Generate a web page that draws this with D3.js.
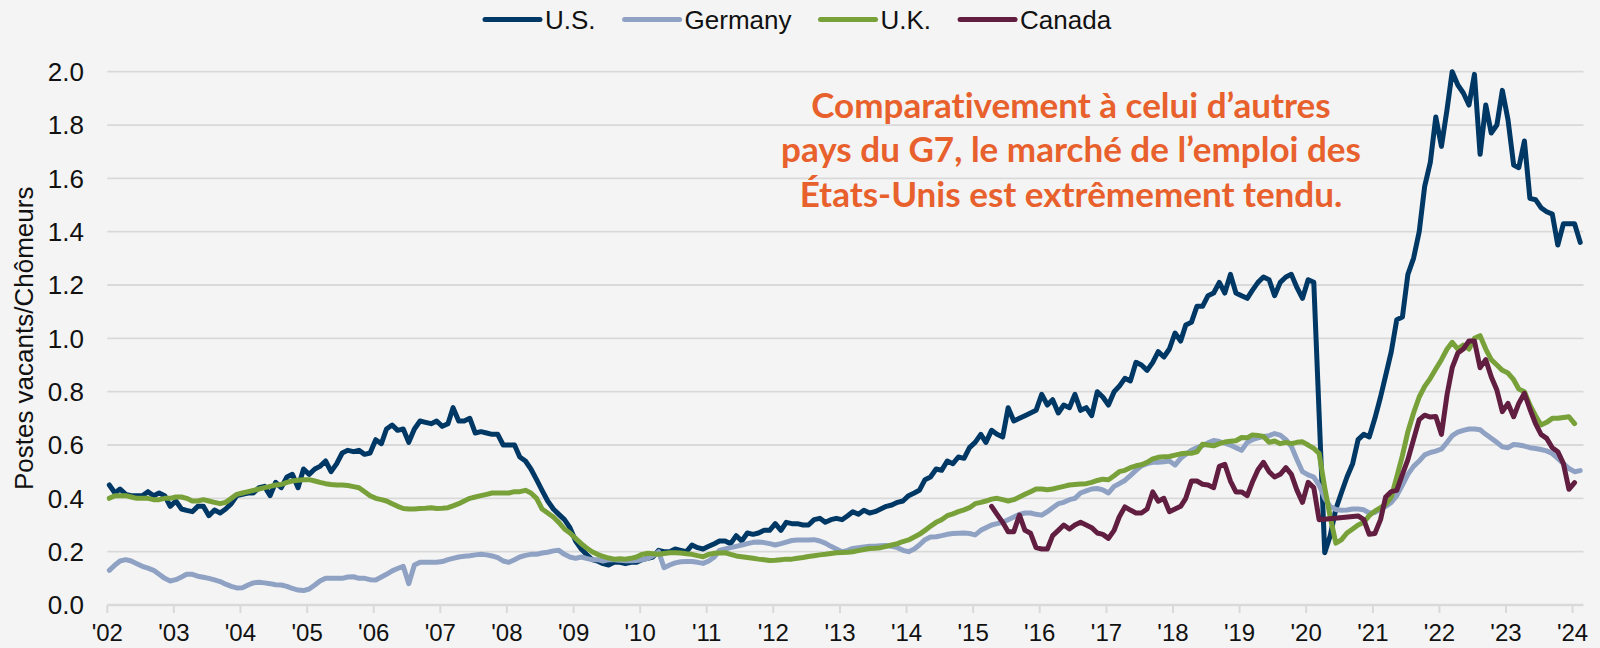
<!DOCTYPE html>
<html>
<head>
<meta charset="utf-8">
<script src="https://cdn.jsdelivr.net/npm/d3@7"></script>
<style>
  body { margin: 0; background: #f4f4f4; }
  svg { display: block; }
</style>
</head>
<body>
<div id="chart"></div>
<script>
// ---- data (monthly) ----
var seriesNames = ["U.S.", "Germany", "U.K.", "Canada"];
var seriesColors = ["#003865", "#8fa2c4", "#78a13a", "#621e40"];

// U.S. : Jan 2002 -> Feb 2024
var usStart = [2002, 0];
var usValues = [
  0.45, 0.42, 0.435, 0.415, 0.41, 0.41, 0.41, 0.425, 0.41, 0.42, 0.41, 0.37,
  0.39, 0.36, 0.355, 0.35, 0.37, 0.37, 0.335, 0.356, 0.345, 0.36, 0.38, 0.41,
  0.415, 0.42, 0.42, 0.44, 0.445, 0.41, 0.46, 0.44, 0.48, 0.49, 0.44, 0.51,
  0.49, 0.51, 0.52, 0.54, 0.50, 0.53, 0.57, 0.58, 0.575, 0.58, 0.565, 0.57,
  0.62, 0.605, 0.66, 0.675, 0.655, 0.66, 0.61, 0.66, 0.69, 0.685, 0.68, 0.69,
  0.67, 0.68, 0.74, 0.69, 0.69, 0.70, 0.645, 0.65, 0.645, 0.64, 0.64, 0.60,
  0.60, 0.60, 0.555, 0.54, 0.51, 0.47, 0.43, 0.39, 0.36, 0.34, 0.32, 0.29,
  0.24, 0.21, 0.19, 0.17, 0.165, 0.155, 0.15, 0.16, 0.16, 0.155, 0.16, 0.16,
  0.17, 0.175, 0.18, 0.205, 0.20, 0.20, 0.21, 0.205, 0.20, 0.225, 0.215, 0.21,
  0.22, 0.23, 0.24, 0.24, 0.23, 0.26, 0.24, 0.27, 0.265, 0.27, 0.28, 0.28,
  0.305, 0.28, 0.31, 0.305, 0.305, 0.30, 0.30, 0.32, 0.325, 0.31, 0.32, 0.325,
  0.32, 0.335, 0.35, 0.34, 0.355, 0.345, 0.35, 0.36, 0.37, 0.375, 0.385, 0.39,
  0.41, 0.42, 0.43, 0.47, 0.48, 0.51, 0.505, 0.54, 0.53, 0.555, 0.55, 0.59,
  0.61, 0.64, 0.61, 0.655, 0.64, 0.63, 0.74, 0.69, 0.70, 0.71, 0.72, 0.73,
  0.79, 0.75, 0.77, 0.72, 0.75, 0.74, 0.79, 0.73, 0.74, 0.71, 0.80, 0.78,
  0.75, 0.80, 0.82, 0.85, 0.84, 0.91, 0.90, 0.88, 0.91, 0.95, 0.93, 0.96,
  1.02, 0.99, 1.05, 1.06, 1.12, 1.12, 1.16, 1.17, 1.21, 1.17, 1.24, 1.17,
  1.16, 1.15, 1.18, 1.21, 1.23, 1.22, 1.16, 1.21, 1.23, 1.24, 1.19, 1.15,
  1.22, 1.21, 0.72, 0.196, 0.26, 0.36, 0.42, 0.48, 0.53, 0.62, 0.64, 0.63,
  0.70, 0.78, 0.86, 0.95, 1.07, 1.08, 1.24, 1.30, 1.40, 1.57, 1.66, 1.83,
  1.72, 1.86, 2.0, 1.95, 1.92, 1.875, 1.99, 1.69, 1.875, 1.77, 1.80, 1.93,
  1.82, 1.65, 1.64, 1.74, 1.525, 1.52, 1.49, 1.475, 1.466, 1.35, 1.43, 1.43,
  1.43, 1.36
];

// Germany : Jan 2002 -> Feb 2024
var deStart = [2002, 0];
var deValues = [
  0.13, 0.15, 0.165, 0.17, 0.165, 0.155, 0.145, 0.138, 0.13, 0.115, 0.10, 0.09,
  0.095, 0.105, 0.115, 0.115, 0.108, 0.104, 0.10, 0.094, 0.088, 0.078, 0.07, 0.064,
  0.065, 0.075, 0.083, 0.085, 0.083, 0.08, 0.076, 0.075, 0.07, 0.062, 0.056, 0.054,
  0.06, 0.075, 0.09, 0.10, 0.10, 0.10, 0.10, 0.105, 0.106, 0.10, 0.10, 0.095,
  0.094, 0.105, 0.115, 0.128, 0.137, 0.145, 0.08, 0.15, 0.16, 0.16, 0.16, 0.16,
  0.163, 0.17, 0.175, 0.18, 0.183, 0.185, 0.188, 0.19, 0.188, 0.184, 0.178, 0.165,
  0.16, 0.17, 0.18, 0.186, 0.19, 0.19, 0.195, 0.198, 0.203, 0.205, 0.19, 0.18,
  0.175, 0.18, 0.175, 0.17, 0.17, 0.165, 0.17, 0.17, 0.168, 0.166, 0.166, 0.167,
  0.17, 0.175, 0.185, 0.20, 0.14, 0.15, 0.158, 0.162, 0.163, 0.163, 0.16, 0.156,
  0.165, 0.18, 0.205, 0.21, 0.215, 0.22, 0.225, 0.23, 0.235, 0.236, 0.234, 0.23,
  0.225, 0.23, 0.236, 0.242, 0.244, 0.244, 0.244, 0.245, 0.24, 0.232, 0.22, 0.21,
  0.20, 0.205, 0.212, 0.215, 0.218, 0.22, 0.22, 0.222, 0.223, 0.22, 0.215, 0.205,
  0.20, 0.21, 0.225, 0.245, 0.255, 0.256, 0.26, 0.265, 0.268, 0.269, 0.27, 0.268,
  0.263, 0.28, 0.29, 0.30, 0.305, 0.31, 0.32, 0.33, 0.34, 0.345, 0.345, 0.34,
  0.337, 0.35, 0.365, 0.38, 0.385, 0.395, 0.40, 0.42, 0.428, 0.435, 0.437, 0.432,
  0.42, 0.445, 0.455, 0.467, 0.485, 0.505, 0.522, 0.53, 0.535, 0.535, 0.537, 0.54,
  0.525, 0.55, 0.565, 0.58, 0.59, 0.598, 0.608, 0.617, 0.613, 0.607, 0.60, 0.59,
  0.58, 0.61, 0.62, 0.627, 0.632, 0.635, 0.643, 0.637, 0.62, 0.595, 0.545, 0.50,
  0.488, 0.48, 0.45, 0.40, 0.37, 0.358, 0.355, 0.356, 0.36, 0.36, 0.357, 0.345,
  0.347, 0.36, 0.37, 0.385, 0.41, 0.45, 0.49, 0.52, 0.54, 0.563, 0.572, 0.577,
  0.585, 0.61, 0.635, 0.648, 0.655, 0.66, 0.66, 0.657, 0.64, 0.625, 0.61, 0.593,
  0.59, 0.602, 0.60, 0.596, 0.59, 0.587, 0.583, 0.578, 0.568, 0.55, 0.53, 0.512,
  0.50, 0.504
];

// U.K. : Jan 2002 -> Jan 2024
var ukStart = [2002, 0];
var ukValues = [
  0.40, 0.41, 0.41, 0.41, 0.405, 0.40, 0.40, 0.40, 0.395, 0.395, 0.40, 0.40,
  0.405, 0.405, 0.40, 0.39, 0.39, 0.395, 0.39, 0.385, 0.38, 0.385, 0.40, 0.415,
  0.42, 0.425, 0.43, 0.435, 0.44, 0.445, 0.45, 0.452, 0.46, 0.465, 0.468, 0.47,
  0.47, 0.465, 0.46, 0.455, 0.452, 0.45, 0.45, 0.448, 0.444, 0.44, 0.425, 0.41,
  0.40, 0.395, 0.39, 0.38, 0.37, 0.362, 0.36, 0.36, 0.362, 0.363, 0.365, 0.362,
  0.363, 0.365, 0.372, 0.38, 0.39, 0.40, 0.405, 0.41, 0.415, 0.42, 0.42, 0.42,
  0.42, 0.425, 0.425, 0.43, 0.42, 0.40, 0.36, 0.345, 0.33, 0.31, 0.285, 0.27,
  0.25, 0.23, 0.215, 0.20, 0.19, 0.182, 0.176, 0.172, 0.173, 0.172, 0.175, 0.18,
  0.19, 0.194, 0.192, 0.19, 0.193, 0.196, 0.196, 0.195, 0.192, 0.19, 0.185, 0.181,
  0.19, 0.194, 0.195, 0.196, 0.19, 0.184, 0.181, 0.178, 0.175, 0.172, 0.17, 0.167,
  0.168, 0.17, 0.172, 0.172, 0.175, 0.178, 0.182, 0.185, 0.188, 0.19, 0.193, 0.196,
  0.197, 0.198, 0.20, 0.204, 0.208, 0.212, 0.213, 0.215, 0.22, 0.225, 0.23, 0.238,
  0.244, 0.255, 0.265, 0.28, 0.295, 0.31, 0.32, 0.335, 0.342, 0.35, 0.357, 0.365,
  0.38, 0.385, 0.39, 0.397, 0.40, 0.395, 0.39, 0.395, 0.405, 0.415, 0.425, 0.435,
  0.435, 0.432, 0.435, 0.44, 0.445, 0.45, 0.452, 0.454, 0.455, 0.46, 0.467, 0.472,
  0.47, 0.485, 0.50, 0.505, 0.515, 0.522, 0.526, 0.535, 0.548, 0.554, 0.556, 0.557,
  0.562, 0.567, 0.569, 0.569, 0.574, 0.603, 0.60, 0.597, 0.605, 0.611, 0.614, 0.616,
  0.628, 0.627, 0.638, 0.636, 0.632, 0.61, 0.615, 0.605, 0.61, 0.605, 0.61, 0.612,
  0.60, 0.587, 0.569, 0.44, 0.33, 0.232, 0.244, 0.27, 0.285, 0.30, 0.31, 0.335,
  0.352, 0.365, 0.377, 0.405, 0.48, 0.56, 0.65, 0.72, 0.78, 0.82, 0.85, 0.885,
  0.92, 0.96, 0.985, 0.96, 0.975, 0.96, 1.0, 1.01, 0.96, 0.92, 0.90, 0.88,
  0.87, 0.845, 0.81, 0.80, 0.75, 0.71, 0.675, 0.685, 0.70, 0.70, 0.703, 0.706,
  0.68
];

// Canada : Apr 2015 -> Jan 2024 (no survey Apr-Sep 2020)
var caStart = [2015, 3];
var caValues = [
  0.37, 0.34, 0.31, 0.275, 0.275, 0.3375, 0.28, 0.269, 0.215,
  0.21, 0.21, 0.26, 0.28, 0.30, 0.285, 0.30, 0.31, 0.30, 0.29, 0.27, 0.265,
  0.25, 0.28, 0.33, 0.368, 0.356, 0.345, 0.345, 0.36, 0.424, 0.389, 0.40, 0.35,
  0.36, 0.37, 0.40, 0.465, 0.465, 0.453, 0.45, 0.44, 0.52, 0.528, 0.465, 0.424,
  0.424, 0.41, 0.46, 0.507, 0.535, 0.50, 0.48, 0.49, 0.515, 0.49, 0.43, 0.385,
  0.46, 0.44, 0.32, null, null, null, null, null, null, 0.334, 0.32, 0.265,
  0.268, 0.32, 0.405, 0.425, 0.43, 0.49, 0.545, 0.62, 0.695, 0.712, 0.705, 0.707,
  0.64, 0.79, 0.89, 0.945, 0.96, 0.99, 0.99, 0.89, 0.92, 0.856, 0.806, 0.725,
  0.756, 0.706, 0.756, 0.794, 0.735, 0.68, 0.64, 0.625, 0.59, 0.575, 0.53, 0.434,
  0.459
];

var yTicks = [0, 0.2, 0.4, 0.6, 0.8, 1.0, 1.2, 1.4, 1.6, 1.8, 2.0];
var xTickYears = [2002, 2003, 2004, 2005, 2006, 2007, 2008, 2009, 2010, 2011, 2012,
  2013, 2014, 2015, 2016, 2017, 2018, 2019, 2020, 2021, 2022, 2023, 2024];
var xTickLabels = ["'02", "'03", "'04", "'05", "'06", "'07", "'08", "'09", "'10", "'11", "'12",
  "'13", "'14", "'15", "'16", "'17", "'18", "'19", "'20", "'21", "'22", "'23", "'24"];
var yTitle = "Postes vacants/Chômeurs";
var noteLines = ["Comparativement à celui d\u2019autres",
  "pays du G7, le marché de l\u2019emploi des",
  "États-Unis est extrêmement tendu."];

// ---- helpers ----
var toPoints = function(start, values) {
  return values.map(function(v, i) {
    return { date: new Date(start[0], start[1] + i, 12), v: v };
  }).filter(function(d) { return d.v !== null; });
};
var series = [
  toPoints(usStart, usValues),
  toPoints(deStart, deValues),
  toPoints(ukStart, ukValues),
  toPoints(caStart, caValues)
];

var W = 1600, H = 648;
// plot box (note: "top" is reserved on window, so prefix these)
var plotL = 107.3, plotR = 1583.5, plotT = 71.7, plotB = 605;
var font = "'Liberation Sans', Arial, sans-serif";

var svg = d3.select("#chart").append("svg")
  .attr("width", W)
  .attr("height", H);

svg.append("rect")
  .attr("width", W).attr("height", H)
  .attr("fill", "#f4f4f4");

var x = d3.scaleTime()
  .domain([new Date(2002, 0, 1), new Date(2024, 2, 1)])
  .range([plotL, plotR]);
var y = d3.scaleLinear()
  .domain([0, 2])
  .range([plotB, plotT]);

// gridlines
svg.append("g").selectAll("line")
  .data(yTicks.filter(function(t) { return t > 0; }))
  .enter().append("line")
  .attr("x1", plotL).attr("x2", plotR)
  .attr("y1", function(d) { return y(d); })
  .attr("y2", function(d) { return y(d); })
  .attr("stroke", "#d9d9d9")
  .attr("stroke-width", 1.8);

// y labels
svg.append("g").selectAll("text")
  .data(yTicks)
  .enter().append("text")
  .attr("x", 84)
  .attr("y", function(d) { return y(d); })
  .attr("dy", "0.36em")
  .attr("text-anchor", "end")
  .style("font-family", font)
  .style("font-size", "26px")
  .attr("fill", "#111")
  .text(function(d) { return d3.format(".1f")(d); });

// x axis line + ticks
svg.append("line")
  .attr("x1", plotL).attr("x2", plotR)
  .attr("y1", y(0)).attr("y2", y(0))
  .attr("stroke", "#d9d9d9")
  .attr("stroke-width", 2.4);

var xt = svg.append("g").selectAll("g")
  .data(xTickYears)
  .enter().append("g")
  .attr("transform", function(d) { return "translate(" + x(new Date(d, 0, 1)) + ",0)"; });
xt.append("line")
  .attr("y1", y(0)).attr("y2", y(0) + 8)
  .attr("stroke", "#d9d9d9")
  .attr("stroke-width", 2);
xt.append("text")
  .attr("y", 641)
  .attr("text-anchor", "middle")
  .style("font-family", font)
  .style("font-size", "24px")
  .attr("fill", "#111")
  .text(function(d, i) { return xTickLabels[i]; });

// y title
svg.append("text")
  .attr("transform", "translate(33," + ((plotT + plotB) / 2) + ") rotate(-90)")
  .attr("text-anchor", "middle")
  .style("font-family", font)
  .style("font-size", "26px")
  .attr("fill", "#111")
  .text(yTitle);

// series lines
var line = d3.line()
  .x(function(d) { return x(d.date); })
  .y(function(d) { return y(d.v); });

svg.append("g").selectAll("path")
  .data(series)
  .enter().append("path")
  .attr("d", line)
  .attr("fill", "none")
  .attr("stroke", function(d, i) { return seriesColors[i]; })
  .attr("stroke-width", 5)
  .attr("stroke-linejoin", "round")
  .attr("stroke-linecap", "round");

// legend
var lx = 485;
seriesNames.forEach(function(name, i) {
  svg.append("line")
    .attr("x1", lx).attr("x2", lx + 55)
    .attr("y1", 19.5).attr("y2", 19.5)
    .attr("stroke", seriesColors[i])
    .attr("stroke-width", 5)
    .attr("stroke-linecap", "round");
  var t = svg.append("text")
    .attr("x", lx + 60)
    .attr("y", 28.5)
    .style("font-family", font)
    .style("font-size", "26px")
    .attr("fill", "#111")
    .text(name);
  lx = lx + 60 + t.node().getComputedTextLength() + 29;
});

// annotation
var note = svg.append("g")
  .style("font-family", "Lato, 'Open Sans', sans-serif")
  .style("font-weight", "bold")
  .style("font-size", "30px")
  .style("font-variant-ligatures", "none")
  .attr("fill", "#e8602c");
var noteText = note.selectAll("text")
  .data(noteLines)
  .enter().append("text")
  .attr("x", 1071)
  .attr("y", function(d, i) { return 117.5 + i * 44.7; })
  .attr("text-anchor", "middle")
  .text(function(d) { return d; });
// fit the widest line to the width seen in the picture
var widest = d3.max(noteText.nodes(), function(n) { return n.getComputedTextLength(); });
note.style("font-size", (30 * 580 / widest) + "px");
</script>
</body>
</html>
